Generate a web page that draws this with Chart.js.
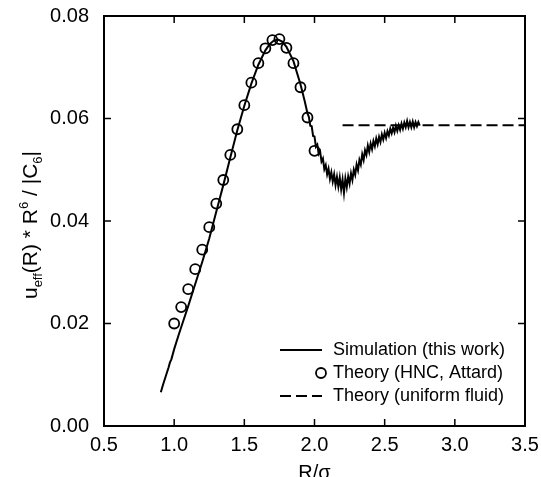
<!DOCTYPE html>
<html>
<head>
<meta charset="utf-8">
<script src="https://cdn.jsdelivr.net/npm/chart.js@4.4.1/dist/chart.umd.min.js"></script>
<style>
  body { margin: 0; background: #fff; }
  canvas { display: block; }
</style>
</head>
<body>
<canvas id="chart" width="541" height="477"></canvas>
<script>
// simulation curve (R/sigma, u_eff * R^6 / |C6|)
const simR = [0.905, 0.92, 0.94, 0.96, 0.97, 0.98, 1.00, 1.03, 1.06, 1.10, 1.15, 1.20, 1.25, 1.30, 1.35,
  1.40, 1.45, 1.50, 1.55, 1.60, 1.65, 1.68, 1.71, 1.74, 1.77, 1.80, 1.85, 1.90, 1.93, 1.95,
  1.96, 1.97, 1.98, 1.99, 2.00, 2.01, 2.02, 2.03, 2.04, 2.05, 2.06, 2.07, 2.08, 2.09,
  2.10, 2.11, 2.12, 2.13, 2.14, 2.15, 2.16, 2.17, 2.18, 2.19,
  2.20, 2.21, 2.22, 2.23, 2.24, 2.25, 2.26, 2.27, 2.28, 2.29,
  2.30, 2.31, 2.32, 2.33, 2.34, 2.35, 2.36, 2.37, 2.38, 2.39,
  2.40, 2.41, 2.42, 2.43, 2.44, 2.45, 2.46, 2.47, 2.48, 2.49,
  2.50, 2.51, 2.52, 2.53, 2.54, 2.55, 2.56, 2.57, 2.58, 2.59,
  2.60, 2.61, 2.62, 2.63, 2.64, 2.65, 2.66, 2.67, 2.68, 2.69,
  2.70, 2.71, 2.72, 2.73, 2.74, 2.75];
const simU = [0.0066, 0.0080, 0.0097, 0.0114, 0.0124, 0.0130, 0.0150, 0.0176, 0.0201, 0.0234, 0.0277, 0.0320, 0.0366, 0.0418, 0.0470,
  0.0524, 0.0577, 0.0625, 0.0668, 0.0705, 0.0733, 0.0745, 0.0752, 0.0754, 0.0750, 0.0740, 0.0712, 0.0667, 0.0634, 0.0610,
  0.0603, 0.0586, 0.0585, 0.0566, 0.0565, 0.0545, 0.0549, 0.0531, 0.0536, 0.0516, 0.0522, 0.0501, 0.0509, 0.0491,
  0.0502, 0.0482, 0.0495, 0.0477, 0.0491, 0.0470, 0.0486, 0.0467, 0.0485, 0.0462,
  0.0481, 0.0455, 0.0483, 0.0466, 0.0487, 0.0473, 0.0493, 0.0480, 0.0500, 0.0490,
  0.0510, 0.0499, 0.0519, 0.0510, 0.0530, 0.0519, 0.0538, 0.0529, 0.0547, 0.0535,
  0.0551, 0.0540, 0.0556, 0.0546, 0.0561, 0.0550, 0.0564, 0.0554, 0.0569, 0.0559,
  0.0572, 0.0562, 0.0575, 0.0567, 0.0580, 0.0571, 0.0582, 0.0573, 0.0586, 0.0576,
  0.0587, 0.0578, 0.0590, 0.0580, 0.0592, 0.0583, 0.0595, 0.0583, 0.0593, 0.0583,
  0.0594, 0.0583, 0.0593, 0.0585, 0.0593, 0.0586];

// HNC theory (Attard)
const hncR = [1.00, 1.05, 1.10, 1.15, 1.20, 1.25, 1.30, 1.35, 1.40, 1.45, 1.50,
  1.55, 1.60, 1.65, 1.70, 1.75, 1.80, 1.85, 1.90, 1.95, 2.00];
const hncU = [0.0200, 0.0232, 0.0267, 0.0306, 0.0344, 0.0388, 0.0434, 0.0480, 0.0529, 0.0579, 0.0626,
  0.0670, 0.0708, 0.0737, 0.0753, 0.0755, 0.0738, 0.0708, 0.0661, 0.0602, 0.0537];

// uniform fluid limit
const uniR = [2.2, 3.5];
const uniU = [0.0587, 0.0587];

const xTicks = ['0.5', '1.0', '1.5', '2.0', '2.5', '3.0', '3.5'];
const yTicks = ['0.00', '0.02', '0.04', '0.06', '0.08'];

const pts = (xs, ys) => xs.map((x, i) => ({ x: x, y: ys[i] }));

const FONT = '"Liberation Sans", Arial, Helvetica, sans-serif';
Chart.defaults.font.family = FONT;
Chart.defaults.color = '#000';

// fixed box sizes so the plot area lands where the original has it
const fixBox = (w, h) => s => {
  if (w) s.width = w;
  if (h) s.height = h;
  s.paddingTop = s.paddingBottom = s.paddingLeft = s.paddingRight = 0;
};

const framePlugin = {
  id: 'frame',
  afterDraw(chart) {
    const ctx = chart.ctx;
    const a = chart.chartArea;
    const x = chart.scales.x, y = chart.scales.y;
    ctx.save();
    ctx.strokeStyle = '#000';
    ctx.lineWidth = 2;
    ctx.strokeRect(a.left, a.top, a.right - a.left, a.bottom - a.top);

    // inward ticks on all four sides
    ctx.lineWidth = 1.5;
    ctx.beginPath();
    x.ticks.forEach(t => {
      const px = x.getPixelForValue(t.value);
      ctx.moveTo(px, a.bottom); ctx.lineTo(px, a.bottom - 7);
      ctx.moveTo(px, a.top); ctx.lineTo(px, a.top + 7);
    });
    y.ticks.forEach(t => {
      const py = y.getPixelForValue(t.value);
      ctx.moveTo(a.left, py); ctx.lineTo(a.left + 7, py);
      ctx.moveTo(a.right, py); ctx.lineTo(a.right - 7, py);
    });
    ctx.stroke();

    // x title
    ctx.fillStyle = '#000';
    ctx.font = '20px ' + FONT;
    ctx.textAlign = 'center';
    ctx.textBaseline = 'alphabetic';
    ctx.fillText('R/\u03c3', (a.left + a.right) / 2, 479);

    // y title with sub/superscripts
    const parts = [
      ['u', 21, 0], ['eff', 13, 5], ['(R) * R', 21, 0], ['6', 13, -9],
      [' / |C', 21, 0], ['6', 13, 5], ['|', 21, 0]
    ];
    let total = 0;
    parts.forEach(p => { ctx.font = p[1] + 'px ' + FONT; total += ctx.measureText(p[0]).width; });
    ctx.translate(37, (a.top + a.bottom) / 2 + 4);
    ctx.rotate(-Math.PI / 2);
    ctx.textAlign = 'left';
    let cx = -total / 2;
    parts.forEach(p => {
      ctx.font = p[1] + 'px ' + FONT;
      ctx.fillText(p[0], cx, p[2]);
      cx += ctx.measureText(p[0]).width;
    });
    ctx.setTransform(1, 0, 0, 1, 0, 0);

    // legend inside the plot
    ctx.font = '18px ' + FONT;
    ctx.textBaseline = 'middle';
    ctx.textAlign = 'left';
    const rows = [350, 373, 396];
    chart.data.datasets.forEach((ds, i) => {
      const ry = rows[i];
      ctx.strokeStyle = '#000';
      ctx.lineWidth = 2;
      if (ds.showLine) {
        ctx.setLineDash(ds.borderDash || []);
        ctx.beginPath();
        ctx.moveTo(280, ry); ctx.lineTo(322, ry);
        ctx.stroke();
        ctx.setLineDash([]);
      } else {
        ctx.lineWidth = ds.pointBorderWidth;
        ctx.beginPath();
        ctx.arc(321, ry, ds.pointRadius, 0, Math.PI * 2);
        ctx.stroke();
      }
      ctx.fillText(ds.label, 333, ry);
    });
    ctx.restore();
  }
};

new Chart(document.getElementById('chart'), {
  type: 'scatter',
  data: {
    datasets: [
      {
        label: 'Simulation (this work)',
        data: pts(simR, simU),
        showLine: true,
        borderColor: '#000',
        borderWidth: 2,
        pointRadius: 0,
        tension: 0
      },
      {
        label: 'Theory (HNC, Attard)',
        data: pts(hncR, hncU),
        showLine: false,
        pointStyle: 'circle',
        pointRadius: 5,
        pointBorderWidth: 1.8,
        pointBorderColor: '#000',
        pointBackgroundColor: 'rgba(0,0,0,0)'
      },
      {
        label: 'Theory (uniform fluid)',
        data: pts(uniR, uniU),
        showLine: true,
        borderColor: '#000',
        borderWidth: 2,
        borderDash: [11, 5],
        pointRadius: 0
      }
    ]
  },
  options: {
    responsive: false,
    animation: false,
    layout: { padding: { top: 16, right: 16, left: 0, bottom: 0 } },
    plugins: { legend: { display: false }, tooltip: { enabled: false } },
    scales: {
      x: {
        type: 'linear',
        min: 0.5,
        max: 3.5,
        ticks: {
          stepSize: 0.5,
          maxRotation: 0,
          padding: 7,
          font: { size: 20 },
          callback: (v, i) => xTicks[i]
        },
        grid: { display: false, drawTicks: false },
        border: { display: false },
        afterFit: fixBox(0, 51)
      },
      y: {
        min: 0,
        max: 0.08,
        ticks: {
          stepSize: 0.02,
          padding: 15,
          font: { size: 20 },
          callback: (v, i) => yTicks[i]
        },
        grid: { display: false, drawTicks: false },
        border: { display: false },
        afterFit: fixBox(104, 0)
      }
    }
  },
  plugins: [framePlugin]
});
</script>
</body>
</html>
